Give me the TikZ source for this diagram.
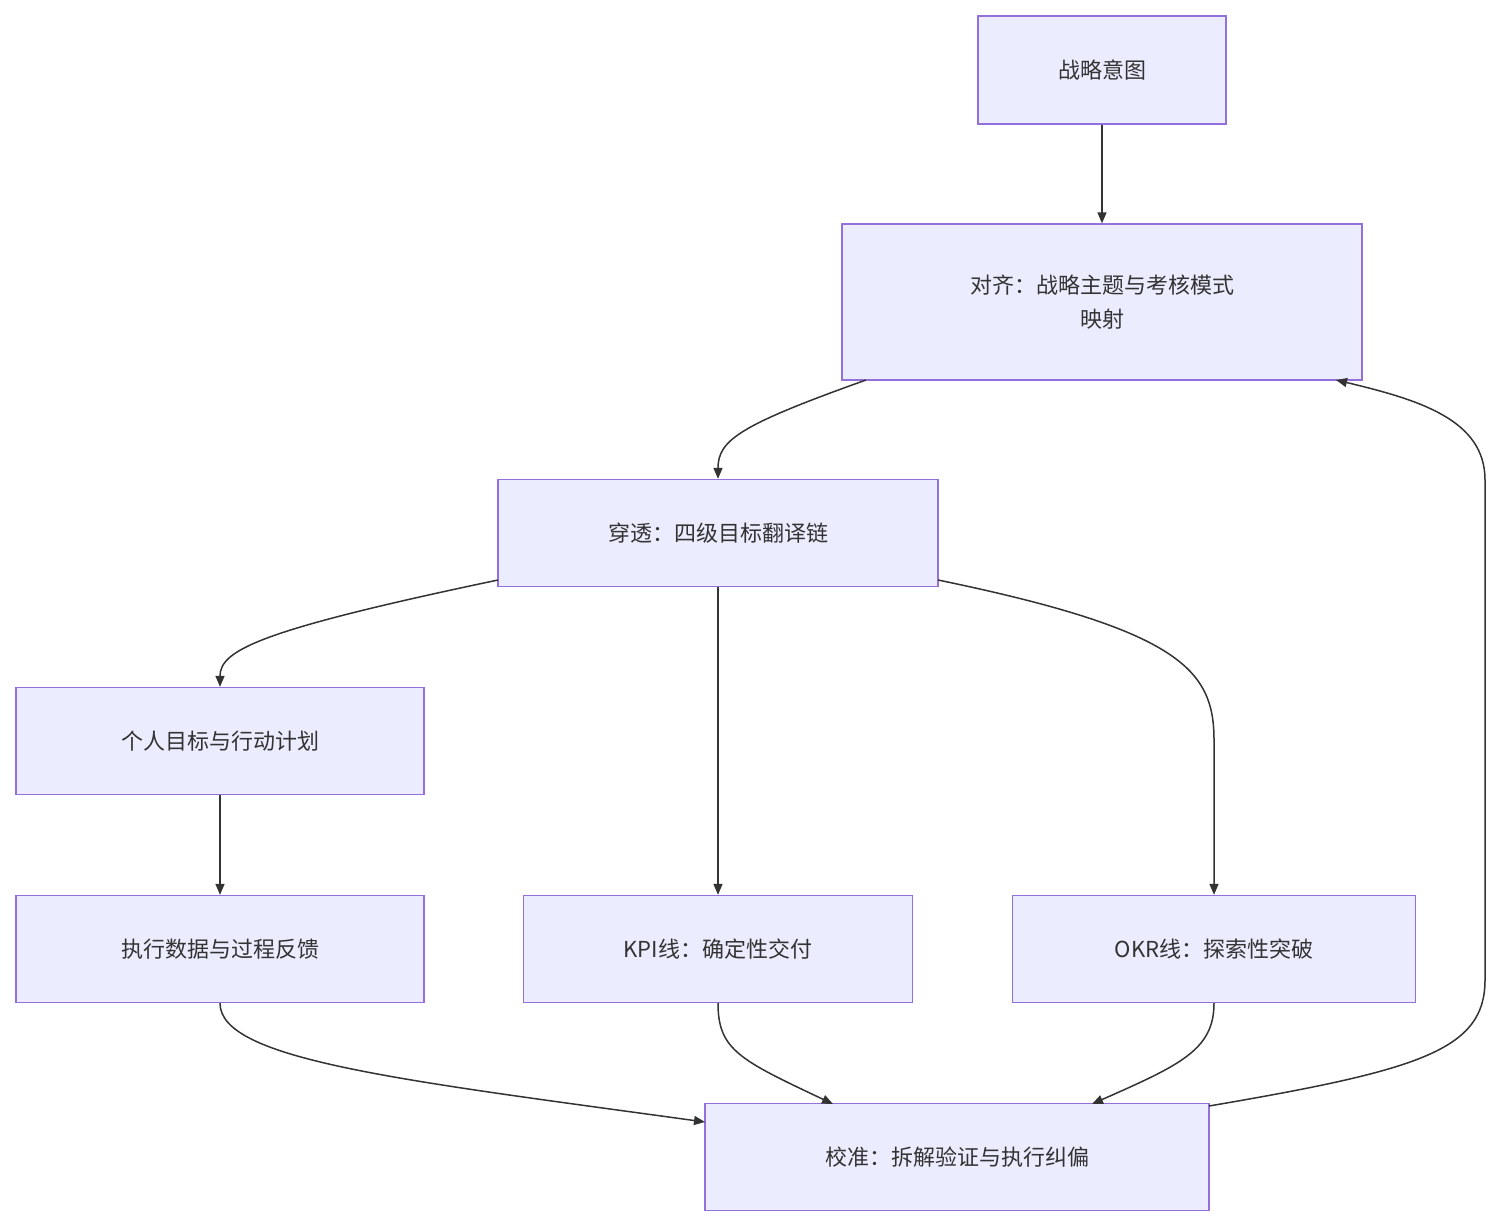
\documentclass[tikz,border=0pt]{standalone}
\usepackage{fontspec}
\setmainfont{Noto Sans CJK SC}
\usetikzlibrary{arrows.meta}
\definecolor{nf}{HTML}{ECECFF}
\definecolor{ns}{HTML}{9370DB}
\definecolor{ln}{HTML}{333333}
\begin{document}
\begin{tikzpicture}[x=1pt,y=-1pt,
  box/.style={draw=ns,fill=nf,line width=1.3pt,inner sep=0pt,font=\fontsize{22}{34}\selectfont,text=ln,align=center},
  ar/.style={draw=ln,line width=1.5pt,-{Triangle[length=11pt,width=9pt]}}]
\useasboundingbox (0,0) rectangle (1501,1228);
\node[box,minimum width=248pt,minimum height=108pt] (A) at (1102,70) {战略意图};
\node[box,minimum width=520pt,minimum height=156pt] (B) at (1102,302) {对齐：战略主题与考核模式\\映射};
\node[box,minimum width=440pt,minimum height=107pt] (C) at (718,533) {穿透：四级目标翻译链};
\node[box,minimum width=408pt,minimum height=107pt] (D) at (220,741) {个人目标与行动计划};
\node[box,minimum width=408pt,minimum height=107pt] (E) at (220,949) {执行数据与过程反馈};
\node[box,minimum width=389pt,minimum height=107pt] (F) at (718,949) {KPI线：确定性交付};
\node[box,minimum width=403pt,minimum height=107pt] (G) at (1214,949) {OKR线：探索性突破};
\node[box,minimum width=504pt,minimum height=107pt] (H) at (957,1157) {校准：拆解验证与执行纠偏};
\coordinate (b1) at (866,380); \coordinate (b2) at (1336,380);
\coordinate (c1) at (498,580); \coordinate (c2) at (938,580);
\coordinate (h1) at (705,1122); \coordinate (h2) at (833,1104);
\coordinate (h3) at (1092,1104); \coordinate (h4) at (1209,1106);
\draw[ar] (A) -- (B);
\draw[ar] (b1) .. controls (740,425) and (718,440) .. (C.north);
\draw[ar] (c1) .. controls (260,630) and (220,650) .. (D.north);
\draw[ar] (C) -- (F);
\draw[ar] (c2) .. controls (1180,630) and (1214,670) .. (1214,740) -- (G.north);
\draw[ar] (D) -- (E);
\draw[ar] (E.south) .. controls (220,1060) and (400,1080) .. (h1);
\draw[ar] (F.south) .. controls (718,1050) and (740,1060) .. (h2);
\draw[ar] (G.south) .. controls (1214,1050) and (1180,1065) .. (h3);
\draw[ar] (h4) .. controls (1420,1070) and (1485,1050) .. (1485,980) -- (1485,480) .. controls (1485,420) and (1420,400) .. (b2);
\end{tikzpicture}
\end{document}
